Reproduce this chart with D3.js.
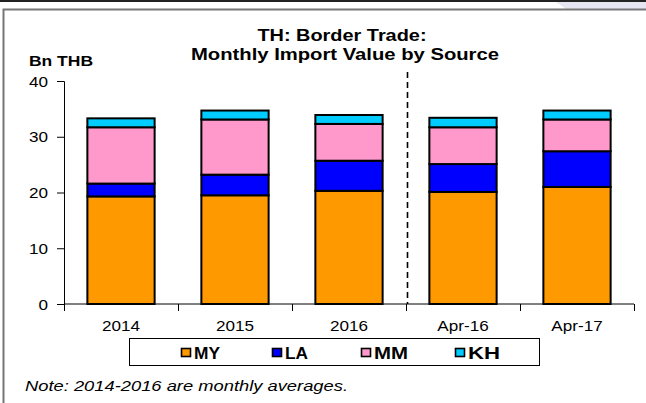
<!DOCTYPE html>
<html>
<head>
<meta charset="utf-8">
<script src="https://cdn.jsdelivr.net/npm/d3@7"></script>
<style>
  body { margin: 0; background: #fff; }
  svg { display: block; font-family: "Liberation Sans", Arial, sans-serif; }
</style>
</head>
<body>
<svg id="chart"></svg>
<script>
var categories = ["2014", "2015", "2016", "Apr-16", "Apr-17"];
var seriesNames = ["MY", "LA", "MM", "KH"];
var MY = [19.3, 19.5, 20.3, 20.1, 21.0];
var LA = [2.3, 3.7, 5.4, 5.0, 6.4];
var MM = [10.1, 9.9, 6.6, 6.6, 5.7];
var KH = [1.6, 1.6, 1.6, 1.7, 1.6];
var yTicks = [0, 10, 20, 30, 40];

var colors = { MY: "#FF9900", LA: "#0000FF", MM: "#FF99CC", KH: "#00CCFF" };

var W = 646, H = 403;
var margin = { top: 81, right: 12, bottom: 99, left: 64 },
  width = W - margin.left - margin.right,
  height = H - margin.top - margin.bottom;

// the original picture is a bit wider than its fonts, so widen text too
function stretch(sel, k) {
  sel.each(function () {
    var len = this.getComputedTextLength();
    d3.select(this).attr("textLength", len * k).attr("lengthAdjust", "spacingAndGlyphs");
  });
}

var svg = d3.select("#chart").attr("width", W).attr("height", H);

// frame decorations
svg.append("polygon")
  .attr("points", "556,2 646,2 646,9 566,9")
  .attr("fill", "#e6e6f2");
svg.append("line").attr("x1", 0).attr("x2", W).attr("y1", 1).attr("y2", 1)
  .attr("stroke", "#222").attr("stroke-width", 2);
svg.append("path")
  .attr("d", "M3.5,403 V9.5 H646")
  .attr("fill", "none").attr("stroke", "#777").attr("stroke-width", 2);

// title
svg.append("text").attr("x", 342).attr("y", 40.5).attr("text-anchor", "middle")
  .attr("font-size", 17).attr("font-weight", "bold").text("TH: Border Trade:")
  .call(stretch, 1.17);
svg.append("text").attr("x", 345).attr("y", 59.5).attr("text-anchor", "middle")
  .attr("font-size", 17).attr("font-weight", "bold").text("Monthly Import Value by Source")
  .call(stretch, 1.19);
svg.append("text").attr("x", 29).attr("y", 65.5)
  .attr("font-size", 15).attr("font-weight", "bold").text("Bn THB")
  .attr("textLength", 64).attr("lengthAdjust", "spacingAndGlyphs");

var rows = categories.map(function (c, i) {
  return { cat: c, MY: MY[i], LA: LA[i], MM: MM[i], KH: KH[i] };
});
var stacked = d3.stack().keys(seriesNames)(rows);

var x = d3.scaleBand().domain(categories).range([0, width]).paddingInner(0.41).paddingOuter(0.205);
var xEdge = d3.scaleLinear().domain([0, categories.length]).range([0, width]);
var y = d3.scaleLinear().domain([0, 40]).range([height, 0]);

var g = svg.append("g").attr("transform", "translate(" + margin.left + "," + margin.top + ")");

// y axis
var yAxis = d3.axisLeft(y).tickValues(yTicks).tickSize(7).tickPadding(9);
g.append("g").attr("class", "y axis").call(yAxis)
  .call(function (s) {
    s.select(".domain").attr("d", "M-7,0.5 H0.5 V" + height);
    s.selectAll("text").attr("font-size", 14.5).attr("font-family", null).attr("fill", "#000")
      .attr("dy", "0.36em").call(stretch, 1.18);
    s.selectAll("line").attr("stroke", "#000");
  });

// x axis: ticks at band edges
var xAxisG = g.append("g").attr("transform", "translate(0," + height + ")");
xAxisG.append("line").attr("x1", 0).attr("x2", width).attr("y1", 0).attr("y2", 0)
  .attr("stroke", "#000");
xAxisG.selectAll(".edge").data(d3.range(categories.length + 1)).enter()
  .append("line").attr("class", "edge")
  .attr("x1", function (d) { return xEdge(d) + 0.5; })
  .attr("x2", function (d) { return xEdge(d) + 0.5; })
  .attr("y1", 0).attr("y2", 7).attr("stroke", "#000");
xAxisG.selectAll(".lbl").data(categories).enter()
  .append("text").attr("class", "lbl")
  .attr("x", function (d) { return x(d) + x.bandwidth() / 2; })
  .attr("y", 26.5).attr("text-anchor", "middle").attr("font-size", 14.5)
  .text(function (d) { return d; })
  .call(stretch, 1.18);

// bars
g.selectAll(".series").data(stacked).enter()
  .append("g").attr("class", "series")
  .attr("fill", function (d) { return colors[d.key]; })
  .selectAll("rect").data(function (d) { return d; }).enter()
  .append("rect")
  .attr("x", function (d) { return x(d.data.cat); })
  .attr("y", function (d) { return y(d[1]); })
  .attr("width", x.bandwidth())
  .attr("height", function (d) { return y(d[0]) - y(d[1]); })
  .attr("stroke", "#000").attr("stroke-width", 2);

// dashed separator between 2016 and Apr-16
var sepX = xEdge(3) + 1.5;
g.append("line").attr("x1", sepX).attr("x2", sepX).attr("y1", -9).attr("y2", height)
  .attr("stroke", "#000").attr("stroke-width", 1.6).attr("stroke-dasharray", "6,4");

// legend
var legend = svg.append("g");
legend.append("rect").attr("x", 129.5).attr("y", 338.5).attr("width", 410).attr("height", 27)
  .attr("fill", "#fff").attr("stroke", "#000");
var legendX = [181, 272, 361, 455];
var legendW = [26, 23, 34, 32];
seriesNames.forEach(function (k, i) {
  legend.append("rect").attr("x", legendX[i] + 0.5).attr("y", 348.5).attr("width", 9).attr("height", 8)
    .attr("fill", colors[k]).attr("stroke", "#000").attr("stroke-width", 1.6);
  legend.append("text").attr("x", legendX[i] + 13).attr("y", 358.5)
    .attr("font-size", 16).attr("font-weight", "bold").text(k)
    .attr("textLength", legendW[i]).attr("lengthAdjust", "spacingAndGlyphs");
});

// note
svg.append("text").attr("x", 25).attr("y", 391).attr("font-size", 15.5)
  .attr("font-style", "italic").text("Note: 2014-2016 are monthly averages.")
  .attr("textLength", 323).attr("lengthAdjust", "spacingAndGlyphs");
</script>
</body>
</html>
